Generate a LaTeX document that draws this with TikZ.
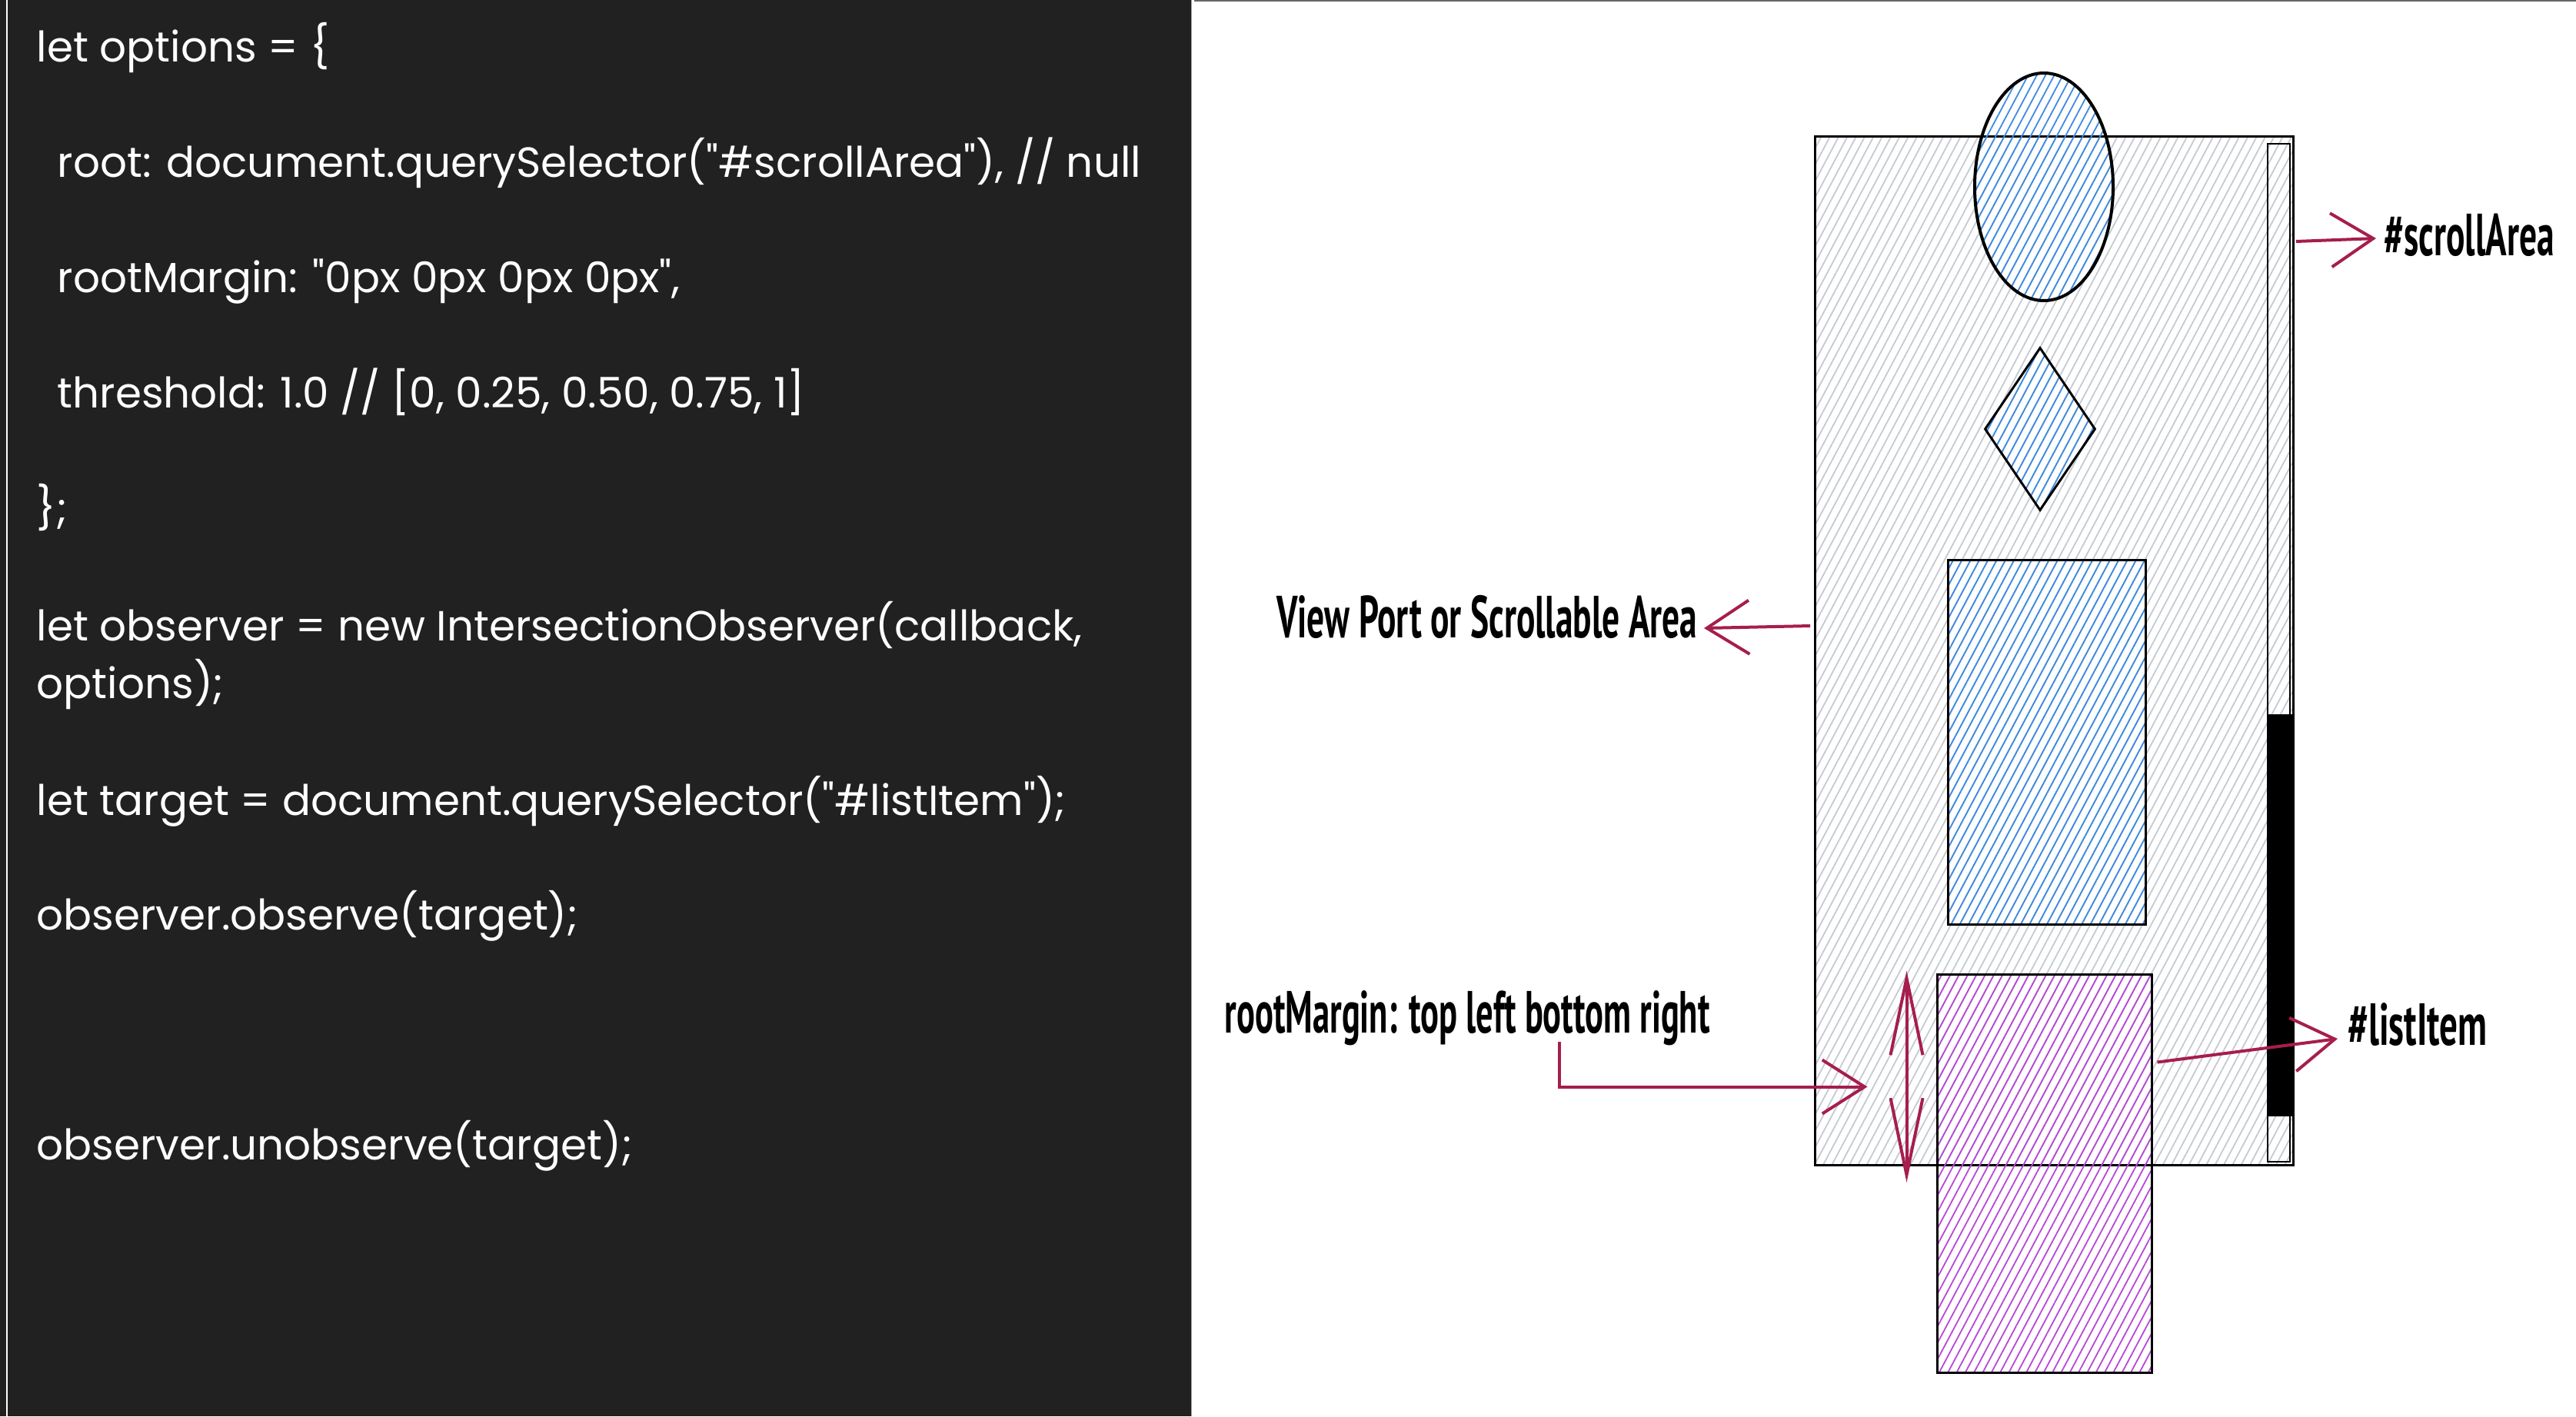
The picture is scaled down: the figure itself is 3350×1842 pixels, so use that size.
\documentclass[tikz,border=0pt]{standalone}
\usepackage{fontspec}
\usepackage{graphicx}
\usetikzlibrary{arrows.meta, positioning, calc, shapes.geometric, patterns.meta}
\newfontfamily\codefont{Poppins}[Ligatures=TeXOff]
\newfontfamily\handfont{PT Sans}
\definecolor{panelbg}{HTML}{212121}
\definecolor{hatchgray}{HTML}{C4CAD2}
\definecolor{hatchblue}{HTML}{3D8BE0}
\definecolor{hatchpurple}{HTML}{B847D8}
\definecolor{markred}{HTML}{A61E4D}
\newcommand{\handtext}[2]{\resizebox{#1}{\height}{\handfont\bfseries #2}}
\tikzset{
  codeline/.style={anchor=base west, inner sep=0pt, text=white, font=\codefont\fontsize{15.6}{19}\selectfont},
  handlabel/.style={inner sep=0pt, font=\fontsize{22}{26}\selectfont},
  hatched/.style={pattern={Lines[angle=62,distance=1mm,line width=0.18mm]}, pattern color=#1},
  shapeline/.style={draw=black, line width=0.3mm, inner sep=0pt},
  markarrow/.style={-{Straight Barb[length=5.5mm,width=7mm]}, draw=markred, line width=0.4mm},
  gaparrow/.style={{Straight Barb[length=10mm,width=4.2mm]}-{Straight Barb[length=10mm,width=4.2mm]}, draw=markred, line width=0.4mm}
}

\begin{document}
\begin{tikzpicture}[x=0.1mm, y=-0.1mm]
  \useasboundingbox (0,0) rectangle (3350,1842);
  % code panel
  \fill[panelbg] (0,0) rectangle (1550,1842);
  \draw[white, line width=0.25mm] (9,0) -- (9,1842);
  \draw[gray!70, line width=0.15mm] (1549.5,0) -- (1549.5,1842);
  \draw[gray!80!black, line width=0.2mm] (1553,1) -- (3350,1);

  \node[codeline] (opt) at (47,80) {let options = \{};
  \node[codeline] (root) at (74,230) {root: document.querySelector("\#scrollArea"), // null};
  \node[codeline] (margin) at (74,380) {rootMargin: "0px 0px 0px 0px",};
  \node[codeline] (thresh) at (74,530) {threshold: 1.0 // [0, 0.25, 0.50, 0.75, 1]};
  \node[codeline] (close) at (47,680) {\};};
  \node[codeline] (obs) at (47,833) {let observer = new IntersectionObserver(callback,};
  \node[codeline] (obsb) at (47,908) {options);};
  \node[codeline] (target) at (47,1060) {let target = document.querySelector("\#listItem");};
  \node[codeline] (observe) at (47,1209) {observer.observe(target);};
  \node[codeline] (unobserve) at (47,1508) {observer.unobserve(target);};

  % scroll area with scrollbar
  \node[shapeline, hatched=hatchgray, minimum width=62.2mm, minimum height=133.8mm] (scroll) at (2671,846) {};
  \node[draw=black, line width=0.2mm, inner sep=0pt, minimum width=2.9mm, minimum height=132.4mm] (track) at (2963.5,849) {};
  \node[fill=black, inner sep=0pt, minimum width=3.2mm, minimum height=52.3mm] (thumb) at (2965,1190.5) {};

  % content
  \node[shapeline, ellipse, line width=0.4mm, hatched=hatchblue, minimum width=18mm, minimum height=29.6mm] (ball) at (2658,243) {};
  \node[shapeline, diamond, hatched=hatchblue, minimum width=14.4mm, minimum height=21.2mm] (gem) at (2653,558) {};
  \node[shapeline, hatched=hatchblue, minimum width=25.7mm, minimum height=47.4mm] (card) at (2661.5,965) {};
  \node[shapeline, hatched=hatchpurple, minimum width=27.9mm, minimum height=51.8mm] (item) at (2658.5,1526) {};

  % labels
  \node[handlabel, anchor=base west] (scrolllbl) at (3100,332) {\handtext{22.1mm}{\#scrollArea}};
  \node[handlabel, anchor=base east] (viewlbl) at (2208,829) {\handtext{54.7mm}{View Port or Scrollable Area}};
  \node[handlabel, anchor=base west] (marginlbl) at (1592,1343) {\handtext{63.1mm}{rootMargin: top left bottom right}};
  \node[handlabel, anchor=base west] (itemlbl) at (3053,1359) {\handtext{18.1mm}{\#listItem}};

  % arrows
  \coordinate (margintip) at ($(item.north west)+(-89,148)$);
  \draw[markarrow] ($(scroll.east |- scrolllbl.base west)+(3,-18)$) -- ($(scrolllbl.base west)+(-10,-22)$);
  \draw[markarrow] ($(scroll.west |- viewlbl.base east)+(-5,-15)$) -- ($(viewlbl.base east)+(8,-12)$);
  \draw[markarrow] ($(item.north east)+(6,116)$) -- ($(itemlbl.base west)+(-13,-8)$);
  \draw[markarrow] ($(marginlbl.base west)+(436,12)$) |- (margintip);
  \draw[gaparrow] ($(item.north west)+(-38,-3)$) -- ($(scroll.south -| item.north west)+(-38,22)$);
\end{tikzpicture}
\end{document}
